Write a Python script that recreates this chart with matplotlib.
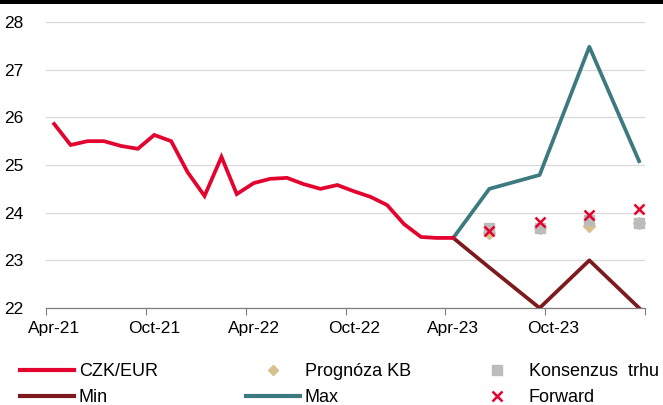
import matplotlib.pyplot as plt
from matplotlib.lines import Line2D
from matplotlib.patches import Rectangle
import pandas as pd

plt.rcParams['font.family'] = ['Liberation Sans', 'DejaVu Sans']

# monthly CZK/EUR history, Apr-21 .. Apr-23
czk_eur = [25.86, 25.42, 25.50, 25.50, 25.40, 25.34, 25.63, 25.50, 24.85,
           24.35, 25.17, 24.39, 24.62, 24.71, 24.73, 24.60, 24.50, 24.58,
           24.45, 24.33, 24.16, 23.76, 23.49, 23.47, 23.47]

# quarterly outlook: Jun-23, Sep-23, Dec-23, Mar-24
fc_months = ['2023-06', '2023-09', '2023-12', '2024-03']
prognoza_kb = [23.57, 23.68, 23.72, 23.78]
konsenzus = [23.68, 23.68, 23.85, 23.78]
forward = [23.61, 23.80, 23.95, 24.08]
fc_max = [24.50, 24.79, 27.48, 25.08]
fc_min = [22.85, 22.00, 23.00, 22.00]

tick_labels = ['Apr-21', 'Oct-21', 'Apr-22', 'Oct-22', 'Apr-23', 'Oct-23']

RED = '#E4032E'
DARKRED = '#7D1A1D'
TEAL = '#3D7A80'
TAN = '#D8C08E'
GREY = '#BDBBBB'

half = pd.Timedelta(days=15)
hist_x = pd.date_range('2021-04-01', periods=len(czk_eur), freq='MS') + half
fc_x = pd.to_datetime(fc_months) + pd.Timedelta(days=20)
# min/max bands start from the last observed value
band_x = [hist_x[-1]] + list(fc_x)

fig = plt.figure(figsize=(6.63, 4.05), dpi=100)
ax = fig.add_axes([0.0694, 0.2395, 0.9036, 0.7062])

ax.plot(hist_x, czk_eur, color=RED, lw=2.7, solid_joinstyle='miter', zorder=4)
ax.plot(band_x, [czk_eur[-1]] + fc_min, color=DARKRED, lw=2.7, zorder=3)
ax.plot(band_x, [czk_eur[-1]] + fc_max, color=TEAL, lw=2.7, zorder=3)
ax.plot(fc_x, prognoza_kb, ls='none', marker='D', ms=6.5, color=TAN, zorder=5)
ax.plot(fc_x, konsenzus, ls='none', marker='s', ms=7, color=GREY, zorder=6)
ax.plot(fc_x, forward, ls='none', marker='x', ms=7.5, mew=1.8, color=RED, zorder=7)

ax.set_ylim(22, 28)
ax.set_yticks(range(22, 29))
ax.set_xlim(pd.Timestamp('2021-04-01'), pd.Timestamp('2024-04-01'))

# tick marks on month starts, labels centred on the month
major = pd.date_range('2021-04-01', '2024-04-01', freq='6MS')
ax.set_xticks(major)
ax.set_xticklabels([])
ax.set_xticks([d + half for d in major[:len(tick_labels)]], minor=True)
ax.set_xticklabels(tick_labels, minor=True)
ax.tick_params(axis='x', which='major', length=5, width=0.8, color='#7F7F7F')
ax.tick_params(axis='x', which='minor', length=0, pad=9, labelsize=12.5)
ax.tick_params(axis='y', length=0, pad=16, labelsize=12.5)

ax.grid(axis='y', color='#D9D9D9', lw=0.9)
ax.set_axisbelow(True)
for side in ['top', 'right', 'left']:
    ax.spines[side].set_visible(False)
ax.spines['bottom'].set_color('#7F7F7F')
ax.spines['bottom'].set_linewidth(0.9)

# legend, three columns of two rows
cols = [
    ([Line2D([], [], color=RED, lw=3), Line2D([], [], color=DARKRED, lw=3)],
     ['CZK/EUR', 'Min'], 20),
    ([Line2D([], [], ls='none', marker='D', ms=5.5, color=TAN),
      Line2D([], [], color=TEAL, lw=3)],
     ['Prognóza KB', 'Max'], 246),
    ([Line2D([], [], ls='none', marker='s', ms=7, color=GREY),
      Line2D([], [], ls='none', marker='x', ms=7.5, mew=1.8, color=RED)],
     ['Konsenzus  trhu', 'Forward'], 470),
]
for handles, labels, x0 in cols:
    fig.legend(handles, labels, loc='upper left',
               bbox_to_anchor=(x0 / 663, 1 - 363 / 405),
               frameon=False, fontsize=13, borderpad=0, borderaxespad=0,
               handlelength=3.0, handletextpad=0.25, labelspacing=0.5)

# black band along the top edge
fig.add_artist(Rectangle((0, 1 - 4 / 405), 1, 4 / 405, transform=fig.transFigure,
                         color='black', lw=0))

fig.savefig('out.png', dpi=100)
